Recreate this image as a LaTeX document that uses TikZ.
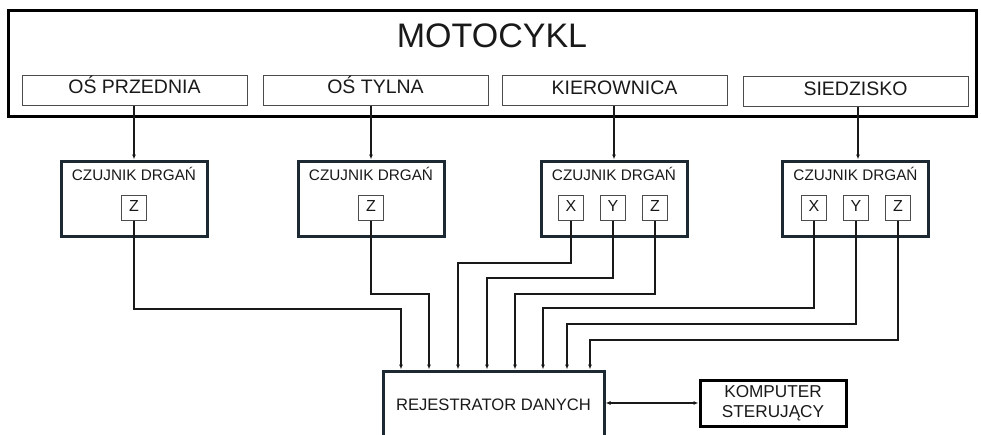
\documentclass[tikz,border=0pt]{standalone}
\usepackage{fontspec}
\setmainfont{Liberation Sans}
\usetikzlibrary{arrows.meta,positioning}

\definecolor{frame}{RGB}{28,40,50}
\definecolor{ink}{RGB}{25,25,25}

\begin{document}
\begin{tikzpicture}[x=1pt,y=-1pt,
  outer/.style={draw=black, line width=3pt},
  part/.style={draw=gray!60!black, line width=1pt, minimum width=225pt, minimum height=30pt, inner sep=0pt, font=\fontsize{19.5}{22}\selectfont, text=ink, text height=0.72em, text depth=0pt},
  sensor/.style={draw=frame, line width=3pt, minimum width=146pt, minimum height=75pt, inner sep=0pt},
  stitle/.style={font=\fontsize{15.3}{18}\selectfont, text=ink, inner sep=0pt, text height=0.72em, text depth=0pt},
  axis/.style={draw=gray!60!black, line width=0.9pt, minimum size=25pt, inner sep=0pt, font=\fontsize{16}{18}\selectfont, text=ink, text height=0.72em, text depth=0pt},
  conn/.style={draw=ink, line width=1.2pt, -{Latex[length=5pt,width=4pt]}}]
 \useasboundingbox (0,0) rectangle (981,434);
 % motocykl
 \draw[outer] (8.5,10) rectangle (976.5,116);
 \node[font=\fontsize{34}{38}\selectfont, text=ink, text height=0.72em, text depth=0pt] (title) at (492,44) {MOTOCYKL};
 \node[part] (przod) at (134.5,90) {OŚ PRZEDNIA};
 \node[part] (tyl) at (375.5,90) {OŚ TYLNA};
 \node[part] (kier) at (614.5,90.5) {KIEROWNICA};
 \node[part] (siedz) at (855.5,91.5) {SIEDZISKO};
 % czujniki
 \node[sensor] (s1) at (134,198.5) {};
 \node[sensor] (s2) at (371,198.5) {};
 \node[sensor] (s3) at (614,198.5) {};
 \node[sensor] (s4) at (855.5,198.5) {};
 \foreach \s in {s1,s2,s3,s4}
   \node[stitle] (\s t) at ([yshift=21.5pt]\s.center) {CZUJNIK DRGAŃ};
 \node[axis] (s1z) at (134,208) {Z};
 \node[axis] (s2z) at (371,208) {Z};
 \node[axis] (s3x) at (571,208) {X};
 \node[axis] (s3y) at (613,208) {Y};
 \node[axis] (s3z) at (655,208) {Z};
 \node[axis] (s4x) at (814,208) {X};
 \node[axis] (s4y) at (856,208) {Y};
 \node[axis] (s4z) at (898,208) {Z};
 % rejestrator i komputer
 \node[draw=frame, line width=3pt, minimum width=221pt, minimum height=67pt, inner sep=0pt, font=\fontsize{16.6}{20}\selectfont, text=ink] (rej) at (493.5,404.5) {REJESTRATOR DANYCH};
 \node[draw=black, line width=3pt, minimum width=146pt, minimum height=46pt, inner sep=0pt, align=center, font=\fontsize{17.2}{20}\selectfont, text=ink] (komp) at (773,403) {KOMPUTER\\STERUJĄCY};
 % wejscia rejestratora
 \foreach \n/\x in {1/401,2/429,3/458,4/487,5/515,6/543,7/567,8/590}
   \coordinate (in\n) at (\x,369.5);
 % polaczenia
 \draw[conn] (przod.south -| s1.north) -- (s1.north);
 \draw[conn] (tyl.south -| s2.north) -- (s2.north);
 \draw[conn] (kier.south -| s3.north) -- (s3.north);
 \draw[conn] (siedz.south -| 858,0) -- (s4.north -| 858,0);
 \foreach \src/\lev/\n in {s1z/309/1, s2z/294/2, s3x/263/3, s3y/278/4, s3z/294/5, s4x/308/6, s4y/324/7, s4z/340/8}
   \draw[conn] (\src.south) -- (\src.south |- 0,\lev) -| (in\n);
 \draw[draw=ink, line width=1.2pt, {Latex[length=5pt,width=4pt]}-{Latex[length=5pt,width=4pt]}] (rej.east |- komp.west) -- (komp.west);
\end{tikzpicture}
\end{document}
